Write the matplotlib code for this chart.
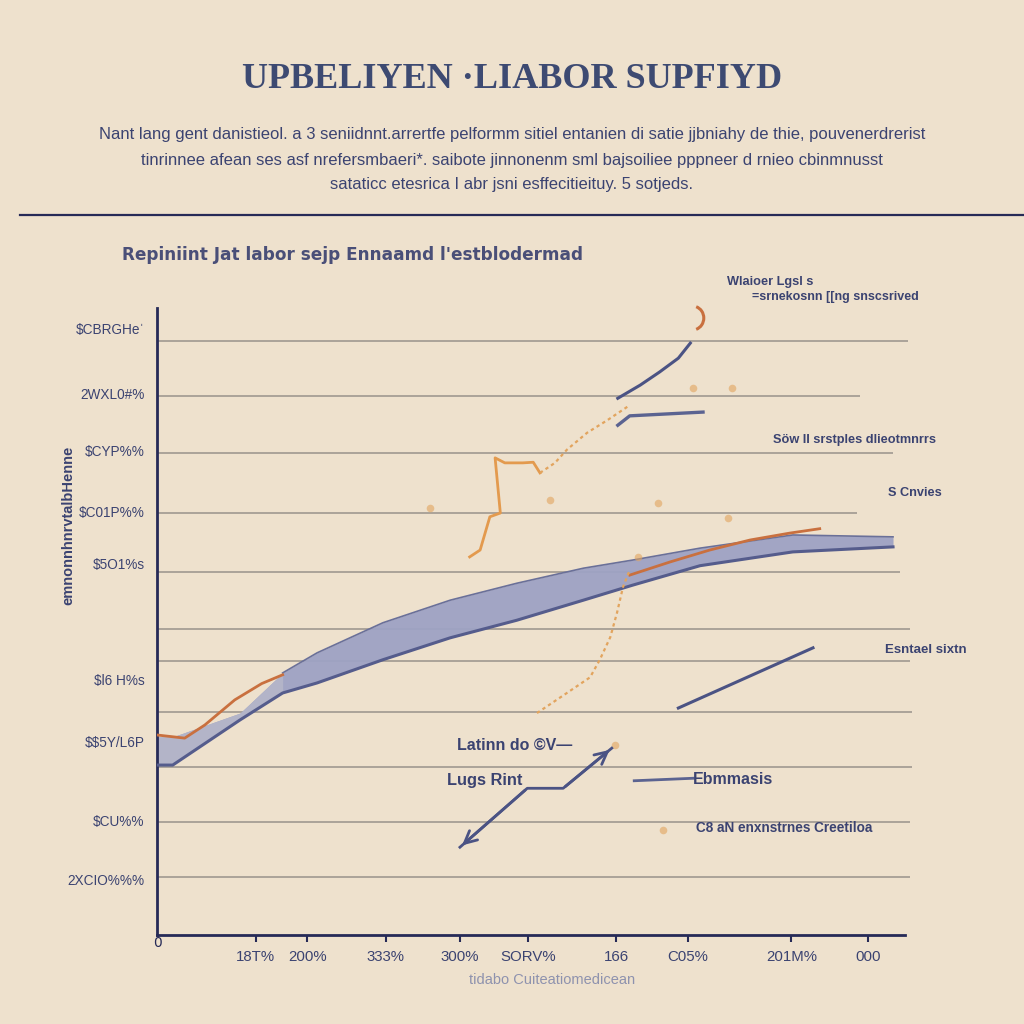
import numpy as np
import matplotlib
matplotlib.use("Agg")
import matplotlib.pyplot as plt
from matplotlib import font_manager as fm
from matplotlib.patches import Arc

plt.rcParams['text.parse_math'] = False  # labels are full of '$'

names = {f.name for f in fm.fontManager.ttflist}
SANS = 'Liberation Sans' if 'Liberation Sans' in names else 'DejaVu Sans'
SERIF = 'Liberation Serif' if 'Liberation Serif' in names else 'DejaVu Serif'

BG = '#EEE1CD'
NAVY = '#3B4371'
SPINE = '#262A57'
ORANGE = '#C9703F'
DOTS = '#E2A45E'
GRID = '#8A8580'

# ---- data (axis units 0..100) ----
band_x = [0, 2.1, 11.1, 16.8, 21.4, 30.2, 39.2, 48.1, 57.0, 63.6, 72.6, 85.0, 98.4]
band_hi = [31.6, 31.6, 35.4, 41.8, 45.0, 49.8, 53.4, 56.1, 58.5, 59.8, 61.7, 63.8, 63.5]
band_lo = [27.1, 27.1, 34.3, 38.6, 40.2, 43.9, 47.4, 50.2, 53.4, 55.8, 58.9, 61.1, 61.9]

supply_x1 = [0, 3.7, 6.4, 10.4, 14.0, 16.8]
supply_y1 = [31.9, 31.4, 33.5, 37.5, 40.1, 41.5]
supply_x2 = [63.2, 68.6, 73.9, 79.3, 84.6, 88.6]
supply_y2 = [57.4, 59.5, 61.4, 63.0, 64.1, 64.8]

zig_x = [41.8, 43.2, 44.5, 45.9, 45.2, 46.5, 48.9, 50.3, 51.2]
zig_y = [60.3, 61.4, 66.7, 67.3, 76.1, 75.3, 75.3, 75.4, 73.7]
dotA_x = [51.2, 53.2, 54.8, 57.5, 60.2, 63.2]
dotA_y = [73.7, 75.3, 77.4, 80.1, 82.1, 84.5]
dotB_x = [50.8, 54.8, 57.9, 59.2, 60.6, 61.5, 62.3, 63.2]
dotB_y = [35.4, 38.6, 41.1, 43.9, 47.5, 51.4, 55.5, 58.2]

navyC_x = [61.6, 64.6, 67.2, 69.7, 71.3]
navyC_y = [85.6, 87.7, 89.8, 92.0, 94.4]
navyD_x = [61.6, 63.2, 73.0]
navyD_y = [81.3, 82.8, 83.4]
navyE_x = [69.7, 87.7]
navyE_y = [36.2, 45.8]
arrow_x = [40.5, 49.5, 54.3, 60.8]
arrow_y = [14.0, 23.4, 23.4, 29.8]
short_x = [63.8, 71.7]
short_y = [24.6, 25.0]

spot_x = [71.7, 76.9, 52.5, 67.0, 76.3, 64.3, 61.2, 67.6, 36.5]
spot_y = [87.2, 87.2, 69.4, 68.9, 66.5, 60.3, 30.3, 16.7, 68.1]

grid_y = [94.7, 86.0, 76.9, 67.3, 57.9, 48.8, 43.7, 35.6, 26.8, 18.0, 9.3]
grid_end = [100.4, 94.0, 98.4, 93.6, 99.3, 100.7, 100.7, 100.9, 100.9, 100.7, 100.7]

ytick_pos = [96.8, 86.4, 77.2, 67.6, 59.2, 40.7, 30.8, 18.3, 8.8]
ytick_lab = ['$CBRGHe\u02c8', '2WXL0#%', '$CYP%%', '$C01P%%', '$5O1%s',
             '$l6 H%s', '$$5Y/L6P', '$CU%%', '2XCIO%%%']
xtick_pos = [13.2, 20.1, 30.6, 40.5, 49.6, 61.4, 71.0, 84.8, 95.1]
xtick_lab = ['18T%', '200%', '333%', '300%', 'SORV%', '166', 'C05%', '201M%', '000']

title = 'UPBELIYEN \u00b7LIABOR SUPFIYD'
subtitle = ['Nant lang gent danistieol. a 3 seniidnnt.arrertfe pelformm sitiel entanien di satie jjbniahy de thie, pouvenerdrerist',
            'tinrinnee afean ses asf nrefersmbaeri*. saibote jinnonenm sml bajsoiliee pppneer d rnieo cbinmnusst',
            'sataticc etesrica I abr jsni esffecitieituy. 5 sotjeds.']
chart_head = "Repiniint Jat labor sejp Ennaamd l'estblodermad"

# ---- figure ----
fig = plt.figure(figsize=(10.24, 10.24), dpi=100, facecolor=BG)
def fx(px): return px / 1024
def fy(py): return 1 - py / 1024

fig.text(0.5, fy(80), title, ha='center', va='center', fontsize=26,
         fontweight='bold', family=SERIF, color='#3D4A72')
for i, line in enumerate(subtitle):
    fig.text(0.5, fy(135 + 25 * i), line, ha='center', va='center',
             fontsize=12, family=SANS, color=NAVY)
fig.add_artist(plt.Line2D([fx(20), 1], [fy(215), fy(215)], color=SPINE, lw=1.6))
fig.text(fx(122), fy(255), chart_head, ha='left', va='center', fontsize=12.2,
         fontweight='bold', family='DejaVu Sans', color='#4A4F78')

ax = fig.add_axes([fx(157), fy(935), 748 / 1024, 627 / 1024])
ax.set_facecolor(BG)
ax.set_xlim(0, 100)
ax.set_ylim(0, 100)

ax.hlines(grid_y, 0, grid_end, colors=GRID, lw=1.1, alpha=0.85, clip_on=False, zorder=1)

ax.fill_between(band_x, band_lo, band_hi, color='#9EA2C4', alpha=0.95, lw=0, zorder=2)
ax.fill_between(band_x[:4], band_lo[:4], band_hi[:4], color='#B3B4C8', lw=0, zorder=2)
ax.plot(band_x, band_lo, color='#555C8C', lw=2.2, zorder=3)
ax.plot(band_x[3:], band_hi[3:], color='#6A7099', lw=1.2, zorder=3)

ax.plot(supply_x1, supply_y1, color=ORANGE, lw=2, zorder=4)
ax.plot(supply_x2, supply_y2, color=ORANGE, lw=2, zorder=4)
ax.plot(zig_x, zig_y, color='#E39A4E', lw=2, zorder=4)
ax.plot(dotA_x, dotA_y, color=DOTS, lw=1.6, ls=(0, (1.5, 1.5)), zorder=4)
ax.plot(dotB_x, dotB_y, color=DOTS, lw=1.6, ls=(0, (1.5, 1.5)), zorder=4)
ax.scatter(spot_x, spot_y, s=30, color=DOTS, alpha=0.6, lw=0, zorder=4)
ax.add_patch(Arc((71.6, 98.4), 3.0, 3.8, theta1=-75, theta2=75,
                 color=ORANGE, lw=2.2, clip_on=False))

ax.plot(navyC_x, navyC_y, color='#4B5384', lw=2.2, zorder=4)
ax.plot(navyD_x, navyD_y, color='#5B6391', lw=2.4, zorder=4)
ax.plot(navyE_x, navyE_y, color='#4B5384', lw=2.2, zorder=4)
ax.plot(arrow_x, arrow_y, color='#4B5384', lw=2, zorder=4)
ax.plot(short_x, short_y, color='#5B6391', lw=2, zorder=4)
ax.annotate('', xy=(arrow_x[-1], arrow_y[-1]), xytext=(arrow_x[-2], arrow_y[-2]),
            arrowprops=dict(arrowstyle='->', color='#4B5384', lw=2, mutation_scale=22))
ax.annotate('', xy=(arrow_x[0], arrow_y[0]), xytext=(arrow_x[1], arrow_y[1]),
            arrowprops=dict(arrowstyle='->', color='#4B5384', lw=2, mutation_scale=22))

for s in ['top', 'right']:
    ax.spines[s].set_visible(False)
for s in ['left', 'bottom']:
    ax.spines[s].set_color(SPINE)
    ax.spines[s].set_linewidth(2)

ax.set_yticks(ytick_pos, ytick_lab)
ax.set_xticks(xtick_pos, xtick_lab)
ax.tick_params(axis='y', length=0, pad=9, labelsize=9.8, labelcolor=NAVY)
ax.tick_params(axis='x', length=5, width=1.5, color=SPINE, pad=6, labelsize=10.8,
               labelcolor=NAVY)
for t in ax.get_xticklabels() + ax.get_yticklabels():
    t.set_family(SANS)

fig.text(fx(157), fy(943), '0', ha='center', va='center', fontsize=10, color=SPINE)
fig.text(fx(552), fy(980), 'tidabo Cuiteatiomedicean', ha='center', va='center',
         fontsize=10.5, family=SANS, color='#8E92AE')
fig.text(fx(68), fy(525), 'emnonnhnrvtalbHenne', ha='center', va='center',
         rotation=90, fontsize=10.5, fontweight='bold', family=SANS, color=NAVY)

# loose annotations
notes = [(727, 282, 'Wlaioer Lgsl s', 9.2),
         (752, 297, '=srnekosnn [[ng snscsrived', 9),
         (773, 440, 'S\u00f6w II srstples dlieotmnrrs', 9.2),
         (888, 493, 'S Cnvies', 9.2),
         (885, 650, 'Esntael sixtn', 9.5),
         (457, 745, 'Latinn do \u00a9V\u2014', 11.5),
         (447, 781, 'Lugs Rint', 11.8),
         (693, 780, 'Ebmmasis', 11.5),
         (696, 828, 'C8 aN enxnstrnes Creetiloa', 9.8)]
for px, py, txt, fs in notes:
    fig.text(fx(px), fy(py), txt, ha='left', va='center', fontsize=fs,
             fontweight='bold', family=SANS, color=NAVY)

plt.savefig('out.png', dpi=100, facecolor=BG)
